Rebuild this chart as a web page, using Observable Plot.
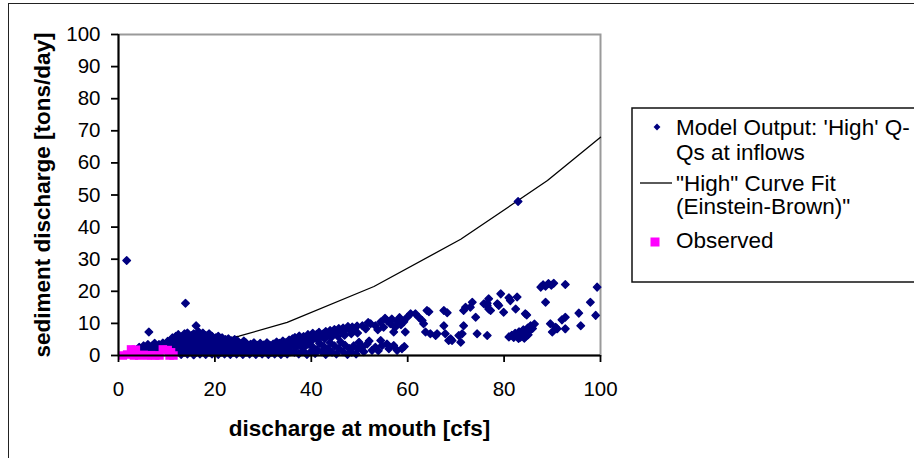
<!DOCTYPE html>
<html><head><meta charset="utf-8">
<script src="https://cdn.jsdelivr.net/npm/d3@7"></script>
<script src="https://cdn.jsdelivr.net/npm/@observablehq/plot@0.6"></script>
<style>
body{margin:0;background:#fff;}
#wrap{position:relative;width:914px;height:458px;overflow:hidden;background:#fff;}
#wrap svg{position:absolute;left:0;top:0;}
#outer{position:absolute;left:8px;top:3px;width:1000px;height:1000px;border-left:1.5px solid #222;border-top:1.5px solid #222;pointer-events:none;}
</style></head><body><div id="wrap"><div id="outer"></div></div>
<script>
const xTicks = [0, 20, 40, 60, 80, 100];
const yTicks = [0, 10, 20, 30, 40, 50, 60, 70, 80, 90, 100];
const xTitle = "discharge at mouth [cfs]";
const yTitle = "sediment discharge [tons/day]";
const legendLabels = ["Model Output: 'High' Q-", "Qs at inflows", "\"High\" Curve Fit", "(Einstein-Brown)\"", "Observed"];

// "High" curve fit (Einstein-Brown)
const curveFit = [[22,5.2],[25,6.0],[35,10.3],[53,21.5],[71,36.2],[89,54.5],[100,68]];

// observed
const observed = [[0.9,0],[1.8,0.3],[2.6,1.9],[3.2,0],[3.6,1.8],[4.3,0],[5.2,0.2],[6.0,0],[6.8,0.1],[7.6,0],[8.5,0],[9.2,1.9],[10.2,1.7],[10.6,0],[10.9,1.0],[11.4,0]];

// model output: 'High' Q-Qs at inflows
const modelIsolated = [[1.7,29.6],[13.9,16.3],[16.1,9.3],[6.3,7.3],[82.9,48.0]];
const modelLow = [
[3.8,1.8],[4.3,2.6],[4.8,1.5],[5.2,3.0],[5.7,2.2],[6.1,3.4],[6.6,1.9],[7.0,3.0],[7.5,3.8],[7.9,2.6],[8.4,3.4],[8.8,2.2],[9.2,3.9],[9.7,3.0],[10.2,4.4],[10.6,3.2],[5.5,1.0],[7.2,1.4],[8.6,1.2],[9.9,1.6],
[11.0,1.0],[11.1,3.5],[11.2,5.5],[11.7,0.5],[11.8,2.5],[11.6,4.5],[11.9,6.0],
[12.4,1.5],[12.3,3.0],[12.5,5.0],[12.4,6.5],[13.0,0.3],[13.1,2.0],[12.9,4.0],[13.2,5.8],
[13.7,1.0],[13.6,3.0],[13.8,4.8],[13.7,6.8],[14.3,0.5],[14.4,2.2],[14.2,3.8],[14.5,5.5],[14.3,7.0],
[15.0,1.2],[15.1,3.0],[14.9,4.5],[15.2,6.2],[15.6,0.2],[15.7,2.0],[15.5,3.5],[15.8,5.0],[15.6,6.8],
[16.2,1.0],[16.3,2.8],[16.1,4.2],[16.4,5.8],[16.6,7.4],[16.9,0.5],[17.0,1.8],[16.8,3.5],[17.1,5.0],[16.9,6.5],
[17.5,1.2],[17.6,2.5],[17.4,4.0],[17.7,5.5],[17.5,7.0],[18.1,0.3],[18.2,2.0],[18.0,3.2],[18.3,4.8],[18.1,6.2],
[18.8,1.0],[18.9,2.8],[18.7,4.2],[19.0,5.6],[18.8,6.8],[19.4,0.5],[19.5,1.8],[19.3,3.5],[19.6,5.0],[19.4,6.0],
[20.0,1.2],[20.1,2.5],[19.9,4.0],[20.2,5.5],[20.7,0.3],[20.8,2.0],[20.6,3.2],[20.9,4.8],[20.7,6.0],
[21.3,1.0],[21.4,2.8],[21.2,4.2],[21.5,5.5],[22.0,0.5],[22.1,1.8],[21.9,3.5],[22.2,5.0],
[22.6,1.2],[22.7,2.5],[22.5,4.0],[22.8,5.2],[23.2,0.3],[23.3,2.0],[23.1,3.2],[23.4,4.6],
[23.9,1.0],[24.0,2.8],[23.8,4.0],[24.1,5.0],[24.5,0.5],[24.6,1.8],[24.4,3.5],[24.7,4.5],
[25.2,1.2],[25.3,2.5],[25.1,3.8],[25.8,0.3],[25.9,2.0],[25.7,3.2],[26.0,4.5],[26.5,1.0],[26.6,2.8],[26.4,4.0]
];
const modelMid = [
[27.2,0.5],[27.2,2.0],[27.4,3.5],[27.9,1.2],[27.9,2.8],[28.1,4.0],[28.5,0.3],[28.6,1.8],[28.8,3.2],[29.2,1.0],[29.3,2.5],[29.4,3.8],
[29.8,0.5],[30.0,2.0],[30.1,3.3],[30.5,1.2],[30.6,2.8],[30.8,4.0],[31.1,0.3],[31.2,1.8],[31.4,3.2],[31.8,1.0],[31.9,2.5],[32.1,3.6],
[32.4,0.5],[32.5,2.0],[32.7,3.2],[32.8,4.2],[33.1,1.2],[33.2,2.8],[33.4,3.8],[33.7,0.3],[33.8,1.8],[34.0,3.2],[34.1,4.5],
[34.4,1.0],[34.5,2.5],[34.7,4.0],[35.0,0.5],[35.1,2.0],[35.3,3.3],[35.4,4.8],[35.7,1.2],[35.8,2.8],[36.0,4.2],[36.1,5.2],
[36.3,4.5],[36.6,5.6],[37.1,5.0],[37.5,6.1],[37.9,4.8],[38.4,5.9],[38.9,5.3],[39.3,6.5],[39.8,5.8],[40.3,6.9],[40.6,5.5],[41.1,6.6],
[41.6,7.2],[42.1,6.0],[42.5,6.8],[43.0,7.5],[43.4,6.4],[43.9,7.8],[44.4,7.0],[44.8,8.1],[45.3,7.3],[45.7,8.4],[46.2,7.6],[46.6,8.6],
[47.1,7.9],[47.6,9.0],[48.0,8.2],[48.5,8.9],[49.0,8.3],[49.5,9.2],
[37.0,3.8],[38.6,4.2],[40.0,4.5],[41.3,4.9],[42.8,5.2],[44.1,5.6],[45.5,6.0],[46.9,6.3],[48.3,6.8],[49.6,7.0],
[36.5,1.0],[36.9,2.5],[37.4,0.5],[37.8,3.2],[38.2,1.5],[38.7,2.8],[39.1,0.3],[39.5,3.5],[39.9,1.2],[40.4,2.5],[40.8,0.6],[41.2,1.9],
[41.7,3.8],[42.2,1.2],[42.6,2.8],[43.0,0.3],[43.5,2.0],[43.9,4.0],[44.3,1.0],[44.8,3.0],[45.2,0.5],[45.7,2.2],[46.1,4.2],[46.6,1.2],
[47.0,3.2],[47.5,0.3],[47.9,2.2],[48.4,1.0],[48.8,3.0],[49.3,0.5],[49.7,2.0],
[50.6,9.3],[51.3,8.3],[52.3,9.9],[53.3,9.3],[54.4,10.4],[55.0,8.8],[55.7,10.9],[56.4,9.9],[56.7,11.4],[57.4,8.8],[57.8,10.5],
[58.3,11.8],[58.6,9.6],[57.1,7.3],[53.8,8.0],[51.8,10.3],[55.3,11.6],
[49.9,4.1],[50.6,2.6],[51.6,3.6],[52.6,1.6],[53.3,2.6],[54.4,4.7],[54.7,3.1],[55.7,3.6],[56.1,2.1],[57.1,3.1],[57.8,1.6],
[58.8,2.1],[59.3,2.8],[52.0,4.5],[50.9,1.2],[53.9,1.5]
];
const modelHigh = [
[59.9,11.9],[60.6,13.0],[61.6,13.0],[62.3,11.9],[63.0,10.9],[59.5,7.3],[59.2,10.5],
[64.0,14.0],[64.4,13.6],[67.5,14.0],[68.2,13.3],[63.3,9.9],[63.7,7.3],[64.7,6.8],[65.8,6.2],[66.1,6.8],
[67.5,9.3],[67.8,6.8],[68.5,4.7],[68.9,5.2],[69.2,4.7],[70.6,6.2],[71.3,6.8],[71.0,4.1],
[71.6,9.3],[71.6,14.0],[72.0,15.0],[73.0,15.0],[73.4,16.6],[74.1,11.9],[74.4,6.8],[76.5,6.2],
[75.8,16.1],[76.5,16.3],[76.8,17.7],[76.5,15.6],[76.8,14.5],[77.2,14.0],
[78.6,16.1],[78.9,15.6],[79.3,19.2],[79.9,13.5],[81.0,18.0],[81.3,17.1],[82.4,14.5],[82.7,18.2],[84.4,13.0],[84.7,12.6],
[81.0,5.8],[81.6,6.3],[82.0,5.6],[82.3,6.9],[82.8,6.2],[83.1,7.4],[83.4,5.7],[83.7,6.8],[84.0,8.0],[84.3,7.2],
[84.6,6.1],[84.9,8.6],[85.2,7.6],[85.5,9.3],[85.9,8.4],[86.3,9.8],[83.0,5.3],[84.2,5.4],[85.0,6.5],
[87.6,21.3],[88.1,22.0],[88.6,21.6],[89.2,22.4],[89.8,21.9],[90.3,22.5],[92.7,22.1],[99.3,21.3],
[88.6,16.6],[97.9,16.6],[99.0,12.5],[95.5,13.2],[92.7,11.9],[92.0,11.1],[89.6,9.9],[91.0,8.3],[92.7,8.3],[90.0,7.3],[95.9,9.3],[90.7,8.8]
];
const modelOutput = [...modelLow, ...modelMid, ...modelHigh, ...modelIsolated];

const BLUE = "#000080", PINK = "#FF00FF";
const FONT = "'Liberation Sans', Arial, Helvetica, sans-serif";

const chart = Plot.plot({
  width: 914, height: 458,
  marginLeft: 118, marginRight: 314, marginTop: 34, marginBottom: 103,
  style: {fontFamily: FONT, background: "transparent", color: "#000", overflow: "visible"},
  x: {domain: [0, 100]},
  y: {domain: [0, 100]},
  marks: [
    Plot.frame({stroke: "#9a9a9a", strokeWidth: 2}),
    Plot.line(curveFit, {x: d => d[0], y: d => d[1], stroke: "#000", strokeWidth: 1.3}),
    Plot.dot(modelOutput, {x: d => d[0], y: d => d[1], symbol: "diamond2", r: 3.4, fill: BLUE, stroke: BLUE, strokeWidth: 1.4, strokeLinejoin: "round"}),
    Plot.dot(observed, {x: d => d[0], y: d => d[1], symbol: "square", r: 4.8, fill: PINK, stroke: "none"}),
    Plot.ruleX([0], {stroke: "#000", strokeWidth: 2}),
    Plot.ruleY([0], {stroke: "#000", strokeWidth: 2}),
    Plot.axisX({ticks: xTicks, tickSize: 7, tickPadding: 19, fontSize: 20.5, label: null, strokeWidth: 1.8}),
    Plot.axisY({ticks: yTicks, tickSize: 7, tickPadding: 11, fontSize: 20.5, label: null, strokeWidth: 1.8}),
    Plot.text([xTitle], {frameAnchor: "bottom", dy: 73, textAnchor: "middle", lineAnchor: "middle", fontSize: 22.5, fontWeight: "bold", fill: "#000"}),
    Plot.text([yTitle], {frameAnchor: "left", dx: -76, rotate: -90, textAnchor: "middle", lineAnchor: "middle", fontSize: 22.5, fontWeight: "bold", fill: "#000"})
  ]
});
document.getElementById("wrap").prepend(chart);

// legend
const svg = d3.select(chart);
const lg = svg.append("g").attr("font-family", FONT).attr("font-size", 22.5).attr("fill", "#000").attr("text-anchor", "start");
lg.append("rect").attr("x", 632).attr("y", 108).attr("width", 300).attr("height", 174)
  .attr("fill", "#fff").attr("stroke", "#111").attr("stroke-width", 1.5);
lg.append("path").attr("d", d3.symbol(d3.symbolDiamond2, 30)()).attr("transform", "translate(657,127)").attr("fill", BLUE);
lg.append("line").attr("x1", 640).attr("x2", 672).attr("y1", 183).attr("y2", 183).attr("stroke", "#000").attr("stroke-width", 1.3);
lg.append("rect").attr("x", 650.5).attr("y", 237.5).attr("width", 9).attr("height", 9).attr("fill", PINK);
const baselines = [135, 160, 191, 214, 248];
legendLabels.forEach((t, i) => lg.append("text").attr("x", 676).attr("y", baselines[i]).attr("text-anchor", "start").text(t));
</script>
</body></html>
